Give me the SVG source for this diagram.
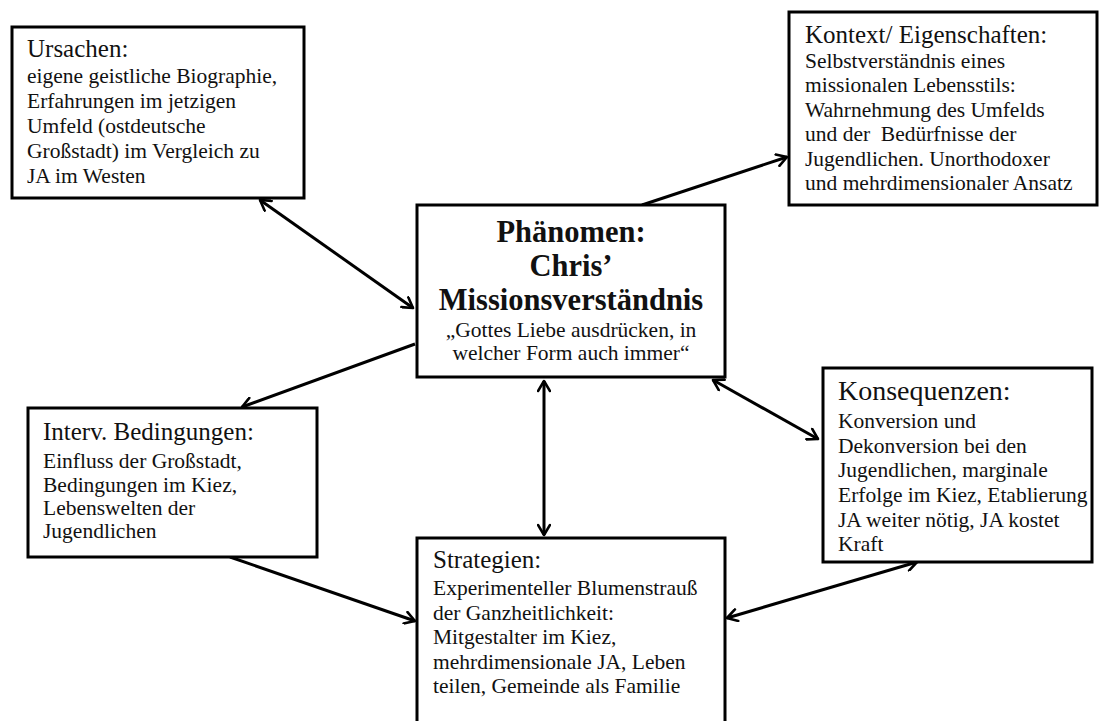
<svg xmlns="http://www.w3.org/2000/svg" width="1103" height="721" viewBox="0 0 1103 721">
  <style>
    .box { fill: #fff; stroke: #000; stroke-width: 3; }
    .t { font-family: "Liberation Serif", "Times New Roman", serif; fill: #111; }
    .h { font-size: 25px; }
    .b { font-size: 21.5px; }
    .big { font-size: 28px; }
    .core { font-size: 30.5px; font-weight: bold; text-anchor: middle; }
    .q { font-size: 21.5px; text-anchor: middle; }
    .link { stroke: #000; stroke-width: 3; fill: none; }
    .one { marker-end: url(#tip); }
    .two { marker-start: url(#tip); marker-end: url(#tip); }
  </style>
  <defs>
    <marker id="tip" viewBox="0 0 14 14" refX="12" refY="7" markerWidth="14" markerHeight="14" markerUnits="userSpaceOnUse" orient="auto-start-reverse">
      <path d="M2,1 L12,7 L2,13" fill="none" stroke="#000" stroke-width="2.6" stroke-linecap="round" stroke-linejoin="round"/>
    </marker>
  </defs>
  <rect width="1103" height="721" fill="#fff"/>

  <g id="connectors">
    <line class="link two" x1="260" y1="200" x2="413" y2="308"/>
    <line class="link one" x1="642" y1="205" x2="787" y2="157"/>
    <line class="link one" x1="415" y1="344" x2="242" y2="407"/>
    <line class="link two" x1="713" y1="380" x2="818" y2="439"/>
    <line class="link two" x1="544" y1="381" x2="544" y2="535"/>
    <line class="link one" x1="230" y1="557" x2="415" y2="621"/>
    <line class="link two" x1="917" y1="562" x2="727" y2="618"/>
  </g>

  <g id="ursachen">
    <rect class="box" x="12" y="27" width="292" height="171" stroke-width="4"/>
    <text class="t h" x="27" y="57">Ursachen:</text>
    <text class="t b" x="27" y="83">eigene geistliche Biographie,</text>
    <text class="t b" x="27" y="108">Erfahrungen im jetzigen</text>
    <text class="t b" x="27" y="133">Umfeld (ostdeutsche</text>
    <text class="t b" x="27" y="158">Großstadt) im Vergleich zu</text>
    <text class="t b" x="27" y="183">JA im Westen</text>
  </g>

  <g id="kontext">
    <rect class="box" x="789" y="12" width="308" height="193"/>
    <text class="t h" x="805" y="43">Kontext/ Eigenschaften:</text>
    <text class="t b" x="805" y="68">Selbstverständnis eines</text>
    <text class="t b" x="805" y="92">missionalen Lebensstils:</text>
    <text class="t b" x="805" y="117">Wahrnehmung des Umfelds</text>
    <text class="t b" x="805" y="141" xml:space="preserve">und der  Bedürfnisse der</text>
    <text class="t b" x="805" y="166">Jugendlichen. Unorthodoxer</text>
    <text class="t b" x="805" y="190">und mehrdimensionaler Ansatz</text>
  </g>

  <g id="phaenomen">
    <rect class="box" x="417" y="205" width="308" height="172"/>
    <text class="t core" x="571" y="242">Phänomen:</text>
    <text class="t core" x="571" y="276">Chris’</text>
    <text class="t core" x="571" y="310">Missionsverständnis</text>
    <text class="t q" x="571" y="337">„Gottes Liebe ausdrücken, in</text>
    <text class="t q" x="571" y="360">welcher Form auch immer“</text>
  </g>

  <g id="bedingungen">
    <rect class="box" x="28" y="408" width="289" height="149"/>
    <text class="t h" x="43" y="440">Interv. Bedingungen:</text>
    <text class="t b" x="43" y="468">Einfluss der Großstadt,</text>
    <text class="t b" x="43" y="492">Bedingungen im Kiez,</text>
    <text class="t b" x="43" y="515">Lebenswelten der</text>
    <text class="t b" x="43" y="538">Jugendlichen</text>
  </g>

  <g id="konsequenzen">
    <rect class="box" x="823" y="368" width="269" height="194"/>
    <text class="t big" x="838" y="400">Konsequenzen:</text>
    <text class="t b" x="838" y="428">Konversion und</text>
    <text class="t b" x="838" y="453">Dekonversion bei den</text>
    <text class="t b" x="838" y="477">Jugendlichen, marginale</text>
    <text class="t b" x="838" y="502">Erfolge im Kiez, Etablierung</text>
    <text class="t b" x="838" y="527">JA weiter nötig, JA kostet</text>
    <text class="t b" x="838" y="551">Kraft</text>
  </g>

  <g id="strategien">
    <rect class="box" x="417" y="538" width="308" height="200"/>
    <text class="t h" x="433" y="568">Strategien:</text>
    <text class="t b" x="433" y="595">Experimenteller Blumenstrauß</text>
    <text class="t b" x="433" y="620">der Ganzheitlichkeit:</text>
    <text class="t b" x="433" y="644">Mitgestalter im Kiez,</text>
    <text class="t b" x="433" y="669">mehrdimensionale JA, Leben</text>
    <text class="t b" x="433" y="693">teilen, Gemeinde als Familie</text>
  </g>
</svg>
